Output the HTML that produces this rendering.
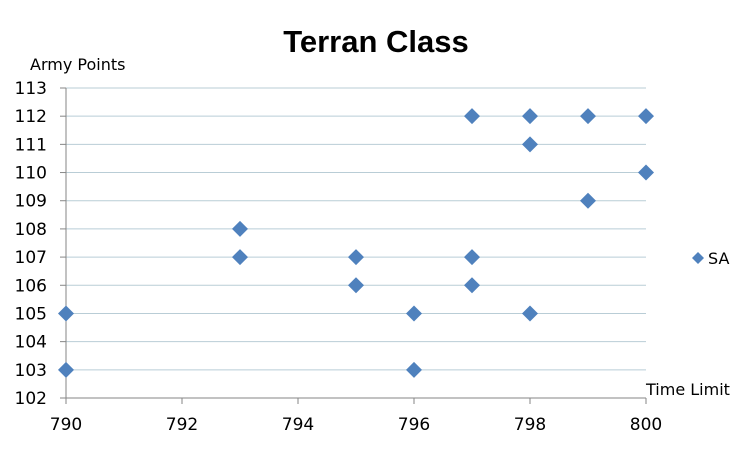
<!DOCTYPE html>
<html><head><meta charset="utf-8"><style>
body{margin:0;background:#fff;}
svg text{font-family:"DejaVu Sans","Liberation Sans",sans-serif;fill:#000;}
</style></head><body>
<svg width="753" height="451" xmlns="http://www.w3.org/2000/svg">
<rect width="753" height="451" fill="#fff"/>
<text x="376" y="52" text-anchor="middle" font-size="31" font-weight="bold" style="font-family:'Liberation Sans',sans-serif">Terran Class</text>
<text x="30" y="70" font-size="16">Army Points</text>
<text x="646" y="395" font-size="16">Time Limit</text>
<g id="grid"></g><g id="axes"></g><g id="marks"></g>
<g>
<path d="M698 252 L704 258 L698 264 L692 258 Z" fill="#4f81bd"/>
<text x="708" y="264" font-size="16">SA</text>
</g>
</svg>
<script>
const xVals=[790,790,793,793,795,795,796,796,797,797,797,798,798,798,799,799,800,800];
const yVals=[105,103,108,107,107,106,105,103,112,107,106,112,111,105,112,109,112,110];
const xTicks=[790,792,794,796,798,800];
const yTicks=[102,103,104,105,106,107,108,109,110,111,112,113];
const NS="http://www.w3.org/2000/svg";
const X0=66,X1=646,Y0=398,Y1=88;
const sx=v=>X0+(v-790)/(800-790)*(X1-X0);
const sy=v=>Y0-(v-102)/(113-102)*(Y0-Y1);
function mk(t,a,p){const e=document.createElementNS(NS,t);for(const k in a)e.setAttribute(k,a[k]);p.appendChild(e);return e;}
const grid=document.getElementById('grid'),axes=document.getElementById('axes'),marks=document.getElementById('marks');
yTicks.forEach(v=>{
 const y=sy(v);
 if(v>102){const g=mk('line',{x1:X0,x2:X1,y1:y,y2:y,stroke:'#b9cdd6','stroke-width':1},grid);
 
 }
 const t=mk('line',{x1:X0-6,x2:X0,y1:y,y2:y,stroke:'#868686'},axes);
 
 
 const l=mk('text',{x:X0-19,y:y+6,'text-anchor':'end','font-size':17},axes);l.textContent=v;
 
 
});
xTicks.forEach(v=>{
 const x=sx(v);
 const t=mk('line',{x1:x,x2:x,y1:Y0,y2:Y0+6,stroke:'#868686'},axes);
 
 
 const l=mk('text',{x:x,y:Y0+32,'text-anchor':'middle','font-size':17},axes);l.textContent=v;
 
 
});
const ya=mk('line',{x1:X0,x2:X0,y1:Y1,y2:Y0,stroke:'#868686'},axes);


const xa=mk('line',{x1:X0,x2:X1,y1:Y0,y2:Y0,stroke:'#868686'},axes);


xVals.forEach((v,i)=>{
 const x=sx(v),y=sy(yVals[i]);
 const p=mk('path',{d:`M${x} ${y-8} L${x+8} ${y} L${x} ${y+8} L${x-8} ${y} Z`,fill:'#4f81bd'},marks);
 
 
});
</script>
</body></html>
